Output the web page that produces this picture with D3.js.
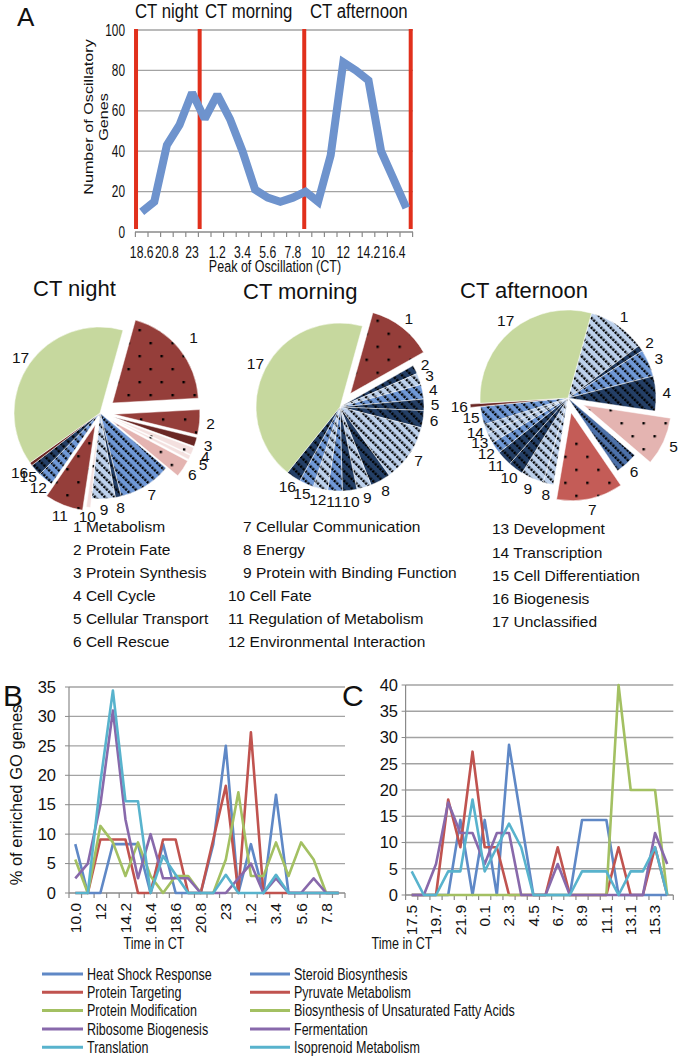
<!DOCTYPE html>
<html><head><meta charset="utf-8">
<script src="https://cdn.jsdelivr.net/npm/d3@7"></script>
<style>html,body{margin:0;padding:0;background:#fff}svg{display:block;font-family:"Liberation Sans",Arial,sans-serif}</style>
</head><body>
<script>
// ---------------- DATA ----------------
const ctA = ['18.6','19.7','20.8','21.9','23','0.1','1.2','2.3','3.4','4.5','5.6','6.7','7.8','8.9','10','11.1','12','13.1','14.2','15.3','16.4','17.5'];
const oscGenes = [10,15,43,53,69,56,68,56,40,21,17,15,17,20,15,38,84,80,75,40,26,12];
const periods = ['CT night','CT morning','CT afternoon'];
const periodBounds = [0.05, 5.1, 13.4, 21.85]; // in category units
const yTicksA = [0,20,40,60,80,100];

const funCats = ['Metabolism','Protein Fate','Protein Synthesis','Cell Cycle','Cellular Transport','Cell Rescue',
  'Cellular Communication','Energy','Protein with Binding Function','Cell Fate','Regulation of Metabolism',
  'Environmental Interaction','Development','Transcription','Cell Differentiation','Biogenesis','Unclassified'];
const pieNight     = [19.8,4.7,1.7,1.4,0.8,3.3,10.0,1.1,4.4,0.8,7.2,2.8,0,0,2.2,0.6,39.1];
const pieMorning   = [12.5,1.7,2.2,2.8,2.2,3.3,11.1,3.9,2.8,2.8,2.8,2.8,0,0,2.8,2.8,43.6];
const pieAfternoon = [10.6,1.1,5.0,6.4,8.9,4.2,12.2,1.9,4.2,2.8,2.8,2.2,1.9,1.7,3.3,0.6,30.3];

const ctB = ['10.0','11.1','12','13.1','14.2','15.3','16.4','17.5','18.6','19.7','20.8','21.9','23','0.1','1.2','2.3','3.4','4.5','5.6','6.7','7.8','8.9'];
const namesB = ['Heat Shock Response','Protein Targeting','Protein Modification','Ribosome Biogenesis','Translation'];
const heatShock   = [8.3,0,0,8.3,8.3,8.3,0,8.3,0,0,0,8.3,25,0,8.3,0,16.7,0,0,0,0,0];
const protTarget  = [0,0,9.1,9.1,9.1,0,0,9.1,9.1,0,0,9.1,18.2,0,27.3,0,0,0,0,0,0,0];
const protModif   = [5.7,0,11.4,8.6,2.9,8.6,2.9,0,2.9,2.9,0,0,5.7,17.1,2.9,2.9,8.6,2.9,8.6,5.7,0,0];
const riboBiog    = [2.5,5,15,31,12.5,2.5,10,2.5,2.5,2.5,0,0,0,2.5,5,0,2.5,0,0,2.5,0,0];
const translation = [0,0,18.8,34.4,15.6,15.6,0,6.3,3.1,0,0,0,3.1,0,0,0,3.1,0,0,0,0,0];
const yTicksB = [0,5,10,15,20,25,30,35];

const ctC = ['17.5','18.6','19.7','20.8','21.9','23','0.1','1.2','2.3','3.4','4.5','5.6','6.7','7.8','8.9','10','11.1','12','13.1','14.2','15.3','16.4'];
const namesC = ['Steroid Biosynthesis','Pyruvate Metabolism','Biosynthesis of Unsaturated Fatty Acids','Fermentation','Isoprenoid Metabolism'];
const steroid     = [0,0,0,0,14.3,0,14.3,0,28.6,14.3,0,0,0,0,14.3,14.3,14.3,0,0,0,0,0];
const pyruvate    = [0,0,0,18.2,9.1,27.3,9.1,9.1,0,0,0,0,9.1,0,0,0,0,9.1,0,0,9.1,0];
const unsatFA     = [0,0,0,0,0,0,0,0,0,0,0,0,0,0,0,0,0,40,20,20,20,0];
const fermentation= [0,0,5.9,17.6,11.8,11.8,5.9,11.8,11.8,0,0,0,5.9,0,0,0,0,0,0,0,11.8,5.9];
const isoprenoid  = [4.5,0,0,4.5,4.5,18.2,4.5,9.1,13.6,9.1,0,0,0,0,4.5,4.5,4.5,0,4.5,4.5,9.1,0];
const yTicksC = [0,5,10,15,20,25,30,35,40];

// ---------------- STYLE ----------------
const seriesColors = ['#5f88c6','#c0534f','#a3c062','#8869ab','#58b3cd'];
const gridCol = '#a3a3a3', axisCol = '#8a8a8a';

const svg = d3.select('body').append('svg').attr('width',680).attr('height',1056);
svg.append('rect').attr('width',680).attr('height',1056).attr('fill','#fff');

function ctext(sel, x, y, str, o){
  o = o || {};
  const tr = `translate(${x},${y}) scale(${o.sx||1},1)` + (o.rot ? ` rotate(${o.rot})` : '');
  const t = sel.append('text').attr('transform', tr).attr('font-size', o.size||16)
    .attr('text-anchor', o.anchor||'start').attr('fill', o.fill||'#111').text(str);
  if (o.dy) t.attr('dy', o.dy);
  return t;
}

// ---------------- PATTERNS ----------------
const defs = svg.append('defs');
const stripeCols = {L:'#bdd1ec', M:'#6f98d6', D:'#243f66', B:'#4c70a8'};
Object.entries(stripeCols).forEach(([k,c])=>{
  const p = defs.append('pattern').attr('id','st'+k).attr('patternUnits','userSpaceOnUse')
    .attr('width',6.8).attr('height',6.8).attr('patternTransform','rotate(45)');
  p.append('rect').attr('width',6.8).attr('height',6.8).attr('fill',c);
  p.append('line').attr('x1',0).attr('x2',6.8).attr('y1',1.6).attr('y2',1.6)
    .attr('stroke','#000').attr('stroke-width',2.4).attr('stroke-dasharray','2.3,1.1');
});
const dotCols = {R:'#953e3a', r:'#c45c57', P:'#e4b4b1', p:'#f3e0df'};
Object.entries(dotCols).forEach(([k,c])=>{
  const p = defs.append('pattern').attr('id','dt'+k).attr('patternUnits','userSpaceOnUse')
    .attr('width',22).attr('height',26);
  p.append('rect').attr('width',22).attr('height',26).attr('fill',c);
  p.append('rect').attr('x',4).attr('y',4).attr('width',2.4).attr('height',2.4).attr('fill','#000');
  p.append('rect').attr('x',15).attr('y',17).attr('width',2.4).attr('height',2.4).attr('fill','#000');
});
function fillFor(k){
  if (k==='g') return '#c6d89e';
  if (k==='X') return '#6a2724';
  if (stripeCols[k]) return `url(#st${k})`;
  return `url(#dt${k})`;
}

// ---------------- PANEL A ----------------
const gA = svg.append('g');
ctext(gA, 17, 26, 'A', {size:26});
const xA = d3.scaleBand().domain(d3.range(ctA.length)).range([135.4, 412.6]);
const yA = d3.scaleLinear().domain([0,100]).range([232, 30]);
gA.selectAll('.gridA').data(yTicksA.slice(1)).join('line')
  .attr('x1',135).attr('x2',413).attr('y1',d=>yA(d)).attr('y2',d=>yA(d))
  .attr('stroke',gridCol).attr('stroke-width',1.3);
gA.append('line').attr('x1',135).attr('x2',413).attr('y1',yA(0)).attr('y2',yA(0)).attr('stroke',axisCol).attr('stroke-width',1.3);
gA.selectAll('.tkA').data(d3.range(ctA.length+1)).join('line')
  .attr('x1',i=>135.4+i*xA.bandwidth()).attr('x2',i=>135.4+i*xA.bandwidth())
  .attr('y1',yA(0)).attr('y2',yA(0)+5).attr('stroke',axisCol).attr('stroke-width',1.2);
yTicksA.forEach(v=> ctext(gA, 125, yA(v), String(v), {size:16, sx:0.74, anchor:'end', dy:'0.35em'}));
ctA.forEach((c,i)=>{ if(i%2===0) ctext(gA, xA(i)+xA.bandwidth()/2, 258, c, {size:16, sx:0.76, anchor:'middle'}); });
ctext(gA, 275, 272, 'Peak of Oscillation (CT)', {size:16.5, sx:0.76, anchor:'middle'});
ctext(gA, 88, 117, 'Number of Oscillatory', {size:16.2, sx:0.8, anchor:'middle', rot:-90, dy:'0.35em'});
ctext(gA, 103, 117, 'Genes', {size:16.2, sx:0.8, anchor:'middle', rot:-90, dy:'0.35em'});
// period lines
periodBounds.forEach(b=>{
  const x = 135.4 + b*xA.bandwidth();
  gA.append('line').attr('x1',x).attr('x2',x).attr('y1',yA(100.5)).attr('y2',yA(1.5))
    .attr('stroke','#e1301c').attr('stroke-width',4);
});
const titleX = [135, 205, 310];
periods.forEach((p,i)=> ctext(gA, titleX[i], 18, p, {size:21, sx:0.8}));
gA.append('path').datum(oscGenes)
  .attr('d', d3.line().x((d,i)=>xA(i)+xA.bandwidth()/2).y(d=>yA(d)))
  .attr('fill','none').attr('stroke','#6e93cd').attr('stroke-width',8)
  .attr('stroke-linejoin','miter').attr('stroke-miterlimit',2);

// ---------------- PIES ----------------
const startA = 15.5*Math.PI/180;
const pieGen = d3.pie().sort(null).value(d=>d).startAngle(startA).endAngle(startA+2*Math.PI);
function drawPie(cx, cy, R, values, styles, explode, title, tx, ty, labelGap){
  const g = svg.append('g');
  ctext(g, tx, ty, title, {size:22});
  const arc = d3.arc().innerRadius(0).outerRadius(R);
  const lab = svg.append('g');
  pieGen(values).forEach((a,i)=>{
    if (a.value<=0) return;
    const mid = (a.startAngle+a.endAngle)/2, e = explode[i]||0;
    const dx = e*Math.sin(mid), dy = -e*Math.cos(mid);
    g.append('path').attr('d',arc(a)).attr('transform',`translate(${cx+dx},${cy+dy})`)
      .attr('fill',fillFor(styles[i])).attr('stroke','#fff').attr('stroke-width',0.5);
    const lr = R + e + (labelGap[i]!==undefined ? labelGap[i] : 11);
    ctext(lab, cx+lr*Math.sin(mid), cy-lr*Math.cos(mid), String(i+1), {size:15.5, anchor:'middle', dy:'0.35em'});
  });
}
drawPie(100, 413, 86, pieNight,
  ['R','R','X','p','p','P','M','D','L','p','R','M','L','L','D','X','g'],
  {0:16,1:14,2:14,3:14,4:14,5:14,9:9,10:13}, 'CT night', 33, 296,
  {0:18, 2:13, 3:14, 4:15, 9:9, 14:10, 15:14});
drawPie(340, 407, 84, pieMorning,
  ['R','D','L','M','D','D','L','D','L','D','M','L','L','L','M','D','g'],
  {0:17}, 'CT morning', 243, 299, {});
drawPie(568, 398, 88, pieAfternoon,
  ['L','D','M','D','P','B','r','L','L','D','D','M','L','L','M','X','g'],
  {4:17,6:15,15:10}, 'CT afternoon', 460, 298, {});

// pie legend
const legG = svg.append('g');
funCats.forEach((c,i)=>{
  let x, y;
  if (i<6){ x = 73; y = 527 + i*23; }
  else if (i<12){ x = (i+1)>=10 ? 228 : 243; y = 527 + (i-6)*23; }
  else { x = 492; y = 529 + (i-12)*23.1; }
  ctext(legG, x, y, `${i+1} ${c}`, {size:15.5, dy:'0.35em'});
});

// ---------------- PANELS B & C ----------------
function linePanel(x0, x1, yTop, yBot, ymax, yTicks, cats, series, letter, lx, timeX, labelRight){
  const g = svg.append('g');
  ctext(g, lx, 706, letter, {size:30});
  const x = d3.scaleBand().domain(d3.range(cats.length)).range([x0, x1]);
  const y = d3.scaleLinear().domain([0, ymax]).range([yBot, yTop]);
  g.selectAll('.gr').data(yTicks.slice(1)).join('line')
    .attr('x1',x0).attr('x2',x1).attr('y1',d=>y(d)).attr('y2',d=>y(d))
    .attr('stroke',gridCol).attr('stroke-width',1.3);
  g.append('line').attr('x1',x0).attr('x2',x0).attr('y1',y(ymax)).attr('y2',y(0)).attr('stroke',axisCol).attr('stroke-width',1.2);
  g.append('line').attr('x1',x0).attr('x2',x1).attr('y1',y(0)).attr('y2',y(0)).attr('stroke',axisCol).attr('stroke-width',1.3);
  g.selectAll('.ty').data(yTicks).join('line')
    .attr('x1',x0-4).attr('x2',x0).attr('y1',d=>y(d)).attr('y2',d=>y(d)).attr('stroke',axisCol);
  g.selectAll('.tx').data(d3.range(cats.length+1)).join('line')
    .attr('x1',i=>x0+i*x.bandwidth()).attr('x2',i=>x0+i*x.bandwidth())
    .attr('y1',y(0)).attr('y2',y(0)+5).attr('stroke',axisCol).attr('stroke-width',1.2);
  yTicks.forEach(v=> ctext(g, labelRight, y(v), String(v), {size:16.5, anchor:'end', dy:'0.35em'}));
  cats.forEach((c,i)=>{ if(i%2===0) ctext(g, x(i)+x.bandwidth()/2, y(0)+10, c, {size:15.5, anchor:'end', rot:-90, dy:'0.35em'}); });
  ctext(g, timeX, 943, 'Time in CT', {size:16.5, sx:0.76, anchor:'middle', dy:'0.35em'});
  series.forEach((s,k)=>{
    g.append('path').datum(s).attr('d', d3.line().x((d,i)=>x(i)+x.bandwidth()/2).y(d=>y(d)))
      .attr('fill','none').attr('stroke',seriesColors[k]).attr('stroke-width',2.6).attr('stroke-linejoin','round');
  });
  return g;
}
linePanel(69, 345, 687, 893, 35, yTicksB, ctB, [heatShock,protTarget,protModif,riboBiog,translation], 'B', 3, 154, 56);
ctext(svg, 16, 795, '% of enriched GO genes', {size:16.5, anchor:'middle', rot:-90, dy:'0.35em'});
linePanel(405.6, 673.3, 685, 895, 40, yTicksC, ctC, [steroid,pyruvate,unsatFA,fermentation,isoprenoid], 'C', 342, 402, 398);

// bottom legend
const lg = svg.append('g');
function legCol(names, lx1, lx2, tx){
  names.forEach((n,k)=>{
    const y = 974 + k*18.3;
    lg.append('line').attr('x1',lx1).attr('x2',lx2).attr('y1',y).attr('y2',y).attr('stroke',seriesColors[k]).attr('stroke-width',3);
    ctext(lg, tx, y, n, {size:16.5, sx:0.76, dy:'0.35em'});
  });
}
legCol(namesB, 42, 83, 87);
legCol(namesC, 250, 290, 294);
</script>
</body></html>
